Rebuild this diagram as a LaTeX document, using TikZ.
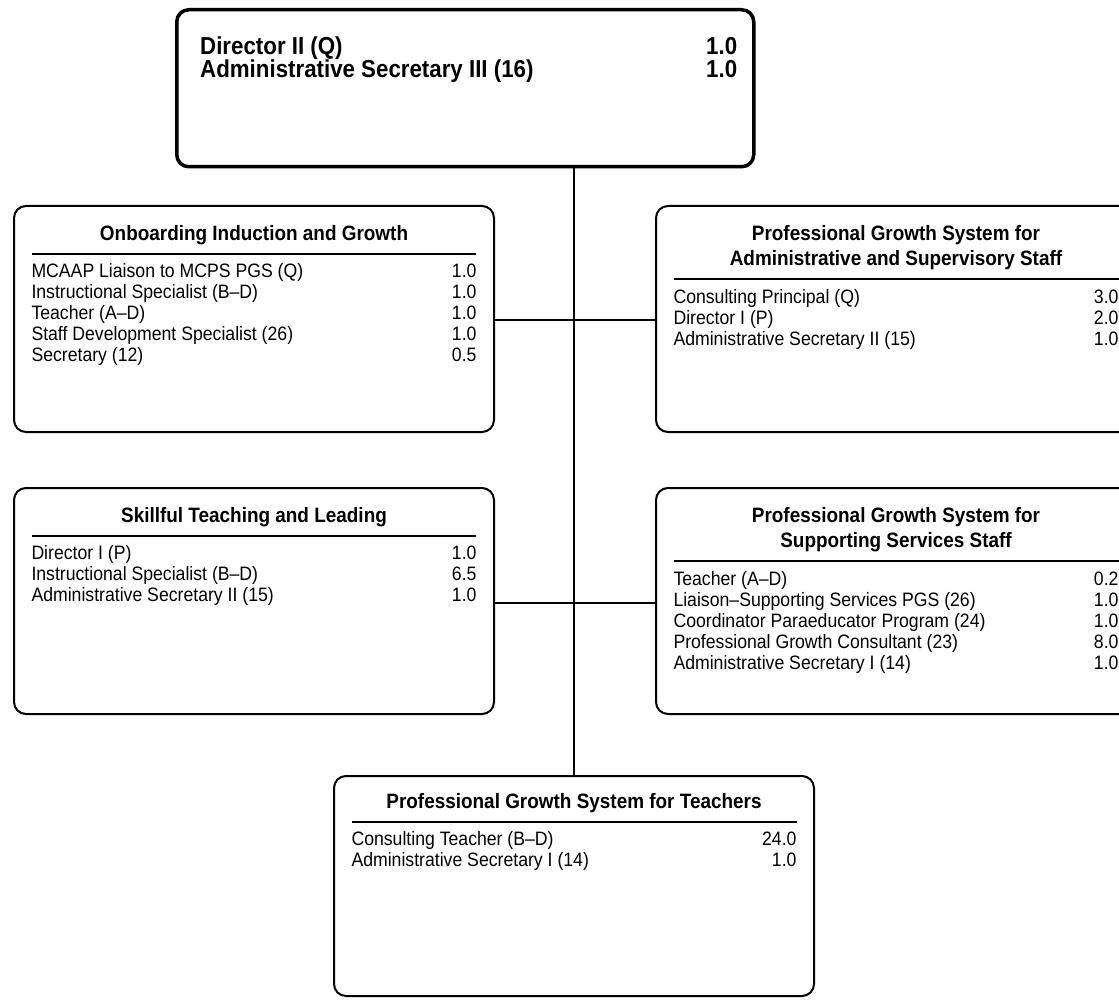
\documentclass[tikz,border=0pt]{standalone}
\usepackage{fontspec}
\setmainfont{Liberation Sans}[FakeStretch=0.91]
\usepackage{array}
\usepackage{tikz}
\usetikzlibrary{positioning}
\setlength{\arrayrulewidth}{2.4pt}
\newcommand{\hdfont}{\bfseries\fontsize{20.8}{25}\selectfont}
\newcommand{\posfont}{\fontsize{19.4}{21}\selectfont}
\tikzset{
  unitbox/.style={draw, line width=2pt, rounded corners=12pt, minimum width=480pt, minimum height=226pt, inner sep=0pt, anchor=north west},
  unittext/.style={inner sep=0pt, anchor=north, font=\posfont},
  link/.style={line width=1.5pt}
}

\begin{document}
\begin{tikzpicture}[x=1pt,y=-1pt]
\useasboundingbox (0,0) rectangle (1119,1000);
\clip (0,0) rectangle (1119,1000);
% khung giám đốc ở trên cùng
\node[draw, line width=3.5pt, rounded corners=12pt, minimum width=577pt, minimum height=157pt, anchor=north west, inner sep=0pt] (dir) at (175,8) {};
\node[inner sep=0pt, anchor=north west, font=\bfseries\fontsize{24.5}{21.5}\selectfont] (dirtxt) at ([xshift=25pt,yshift=-29pt]dir.north west) {
  \begin{tabular*}{537pt}{@{}l@{\extracolsep{\fill}}r@{}}
  Director II (Q) & 1.0\\[-1.5pt]
  Administrative Secretary III (16) & 1.0\\
  \end{tabular*}
};

\node[unitbox] (onb) at (13,205) {};
\node[unittext, below=20pt of onb.north] (onbtxt) {
  \begin{tabular*}{445pt}{@{}l@{\extracolsep{\fill}}r@{}}
  \multicolumn{2}{c}{\hdfont Onboarding Induction and Growth}\\[6pt]
  \hline\noalign{\vskip 8pt}
  MCAAP Liaison to MCPS PGS (Q) & 1.0\\
  Instructional Specialist (B--D) & 1.0\\
  Teacher (A--D) & 1.0\\
  Staff Development Specialist (26) & 1.0\\
  Secretary (12) & 0.5\\
  \end{tabular*}
};

\node[unitbox] (pgsa) at (655,205) {};
\node[unittext, below=20pt of pgsa.north] (pgsatxt) {
  \begin{tabular*}{445pt}{@{}l@{\extracolsep{\fill}}r@{}}
  \multicolumn{2}{c}{\hdfont Professional Growth System for}\\[4pt]
  \multicolumn{2}{c}{\hdfont Administrative and Supervisory Staff}\\[6pt]
  \hline\noalign{\vskip 8pt}
  Consulting Principal (Q) & 3.0\\
  Director I (P) & 2.0\\
  Administrative Secretary II (15) & 1.0\\
  \end{tabular*}
};

\node[unitbox] (stl) at (13,487) {};
\node[unittext, below=20pt of stl.north] (stltxt) {
  \begin{tabular*}{445pt}{@{}l@{\extracolsep{\fill}}r@{}}
  \multicolumn{2}{c}{\hdfont Skillful Teaching and Leading}\\[6pt]
  \hline\noalign{\vskip 8pt}
  Director I (P) & 1.0\\
  Instructional Specialist (B--D) & 6.5\\
  Administrative Secretary II (15) & 1.0\\
  \end{tabular*}
};

\node[unitbox] (pgss) at (655,487) {};
\node[unittext, below=20pt of pgss.north] (pgsstxt) {
  \begin{tabular*}{445pt}{@{}l@{\extracolsep{\fill}}r@{}}
  \multicolumn{2}{c}{\hdfont Professional Growth System for}\\[4pt]
  \multicolumn{2}{c}{\hdfont Supporting Services Staff}\\[6pt]
  \hline\noalign{\vskip 8pt}
  Teacher (A--D) & 0.2\\
  Liaison--Supporting Services PGS (26) & 1.0\\
  Coordinator Paraeducator Program (24) & 1.0\\
  Professional Growth Consultant (23) & 8.0\\
  Administrative Secretary I (14) & 1.0\\
  \end{tabular*}
};

\node[unitbox, minimum height=220pt] (pgst) at (333,775) {};
\node[unittext, below=18pt of pgst.north] (pgsttxt) {
  \begin{tabular*}{445pt}{@{}l@{\extracolsep{\fill}}r@{}}
  \multicolumn{2}{c}{\hdfont Professional Growth System for Teachers}\\[6pt]
  \hline\noalign{\vskip 8pt}
  Consulting Teacher (B--D) & 24.0\\
  Administrative Secretary I (14) & 1.0\\
  \end{tabular*}
};

% các đường nối
\coordinate (rowa) at (0,320);
\coordinate (rowb) at (0,603);
\draw[link] (pgst.north) -- (pgst.north |- dir.south);
\draw[link] (onb.east |- rowa) -- (pgsa.west |- rowa);
\draw[link] (stl.east |- rowb) -- (pgss.west |- rowb);
\end{tikzpicture}
\end{document}
